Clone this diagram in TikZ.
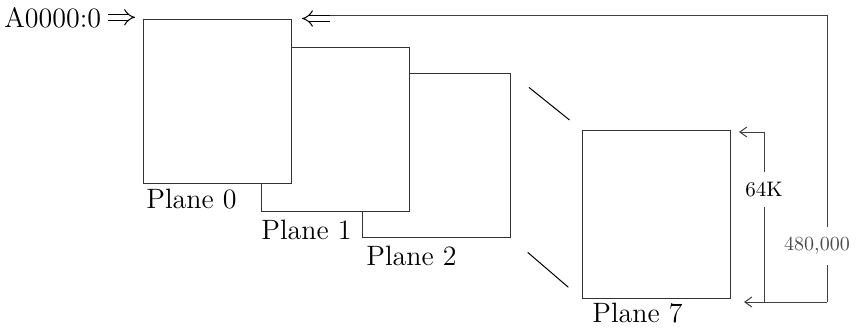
\documentclass[tikz,border=0pt]{standalone}
\usepackage{tikz}
\usetikzlibrary{arrows.meta,calc,positioning}
\tikzset{
  plane/.style={draw=black!80,fill=white,line width=0.5pt,anchor=north west,inner sep=0pt,minimum width=74pt,minimum height=82pt},
  planelabel/.style={font=\fontsize{14}{16}\selectfont,anchor=base west,inner sep=0pt},
  dimline/.style={draw=black!75,line width=0.5pt},
  dimarrow/.style={dimline,-{Straight Barb[length=3.5pt,width=5pt]}},
  dblarrow/.style={line width=0.5pt,double=white,double distance=2.4pt,-{Implies}},
  dimlabel/.style={fill=white,inner xsep=1pt,inner ysep=5pt},
}
\begin{document}
\begin{tikzpicture}[x=0.5pt,y=-0.5pt]
\useasboundingbox (0,0) rectangle (860,329);
% planes 2, 1, 0 drawn back to front
\foreach \i/\x/\y/\lx/\ly in {2/362/73/366/265,1/261/47/261/239,0/143/19/146/208}{
  \node[plane] (p\i) at (\x,\y) {};
  \node[planelabel] (l\i) at (\lx,\ly) {Plane \i};
}
\node[plane,minimum height=84pt] (p7) at (582,130) {};
\node[planelabel] (l7) at (592,322) {Plane 7};
% perspective lines
\draw[line width=0.5pt,shorten <=11.5pt,shorten >=8pt] (p2.north east) -- (p7.north west);
\draw[line width=0.5pt,shorten <=11pt,shorten >=9pt] (p2.south east) -- (p7.south west);
% start address
\node[font=\fontsize{14}{16}\selectfont,anchor=base west,inner xsep=3pt,inner ysep=2pt] (addr) at (-2,27) {A0000:0};
\draw[dblarrow,shorten >=4pt] (addr.east) -- (addr.east -| p0.west);
% sizes
\coordinate (ret) at (330,18.5);
\coordinate (ob) at (827,302);
\coordinate (kt) at (764,132);
\coordinate (kb) at (764,302);
\draw[dblarrow,shorten >=5pt] (ret) -- (ret -| p0.east);
\draw[dimline] ([yshift=1.45pt]ret) -| (ob);
\draw[dimarrow,shorten >=6.5pt] (ob) -- (ob -| p7.east);
\draw[dimarrow,shorten >=4pt] (kt) -- (kt -| p7.east);
\draw[dimline] (kt) -- (kb) node[dimlabel,pos=0.34,font=\fontsize{10.5}{12}\selectfont] (k64) {64K};
\node[dimlabel,font=\fontsize{10}{12}\selectfont,text=black!70] (n480) at (817,246) {480,000};
\end{tikzpicture}
\end{document}
